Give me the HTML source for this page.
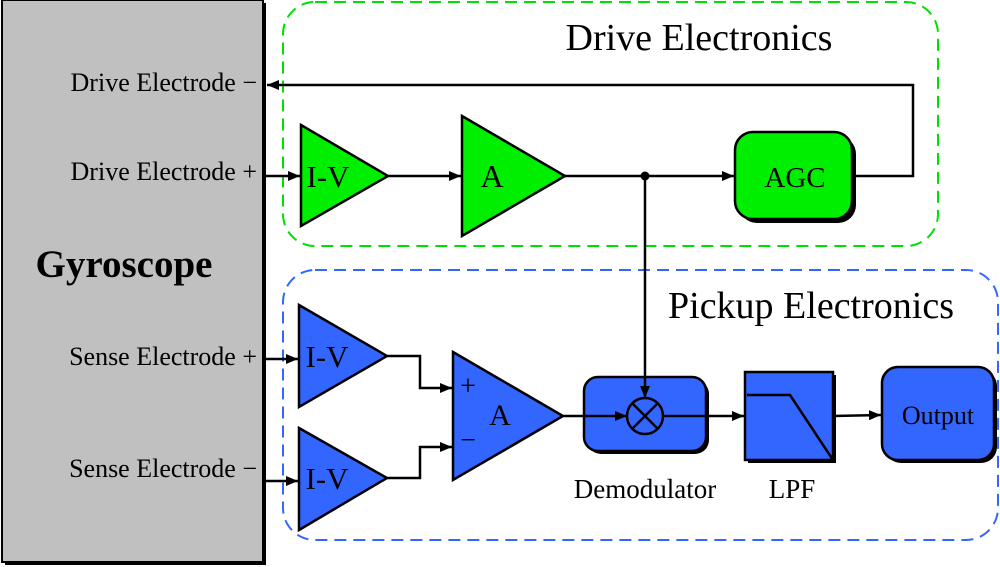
<!DOCTYPE html>
<html><head><meta charset="utf-8"><style>
html,body{margin:0;padding:0;background:#fff;}
svg{display:block;}
svg text{font-family:'Liberation Serif','Times New Roman',serif;}
</style></head><body>
<svg width="1000" height="567" viewBox="0 0 1000 567" xmlns="http://www.w3.org/2000/svg" font-family="'Liberation Serif','Times New Roman',serif">
<defs>
<marker id="ar" markerWidth="12" markerHeight="10" refX="12" refY="5" orient="auto" markerUnits="userSpaceOnUse">
<path d="M0,0 L12,5 L0,10 z" fill="#000"/>
</marker>
</defs>
<rect x="5" y="3" width="261" height="562" fill="#000"/>
<rect x="2" y="0" width="261" height="562" fill="#c0c0c0" stroke="#000" stroke-width="2"/>
<text x="124" y="277" font-size="39" font-weight="bold" text-anchor="middle">Gyroscope</text>
<g font-size="26" text-anchor="end">
<text x="257" y="91">Drive Electrode −</text>
<text x="257" y="180">Drive Electrode +</text>
<text x="257" y="365">Sense Electrode +</text>
<text x="257" y="477">Sense Electrode −</text>
</g>
<rect x="283" y="2" width="655" height="244" rx="32" fill="none" stroke="#00e000" stroke-width="2" stroke-dasharray="12,7"/>
<rect x="283" y="270" width="715" height="270" rx="32" fill="none" stroke="#3366ff" stroke-width="2" stroke-dasharray="12,7"/>
<text x="699" y="50" font-size="38" text-anchor="middle">Drive Electronics</text>
<text x="811" y="318" font-size="38" text-anchor="middle">Pickup Electronics</text>
<rect x="587" y="380" width="122" height="74" rx="14" fill="#000"/>
<rect x="584" y="377" width="122" height="74" rx="14" fill="#3366ff" stroke="#000" stroke-width="2.5"/>
<g stroke="#000" stroke-width="2.5" fill="none">
<line x1="265" y1="176" x2="300" y2="176" marker-end="url(#ar)"/>
<line x1="388" y1="176" x2="461" y2="176" marker-end="url(#ar)"/>
<line x1="565" y1="176" x2="734" y2="176" marker-end="url(#ar)"/>
<polyline points="852,176 913,176 913,85 267,85" marker-end="url(#ar)"/>
<line x1="645" y1="176" x2="645" y2="398" marker-end="url(#ar)"/>
<line x1="265" y1="359" x2="298" y2="359" marker-end="url(#ar)"/>
<line x1="265" y1="481" x2="298" y2="481" marker-end="url(#ar)"/>
<polyline points="387,356 420,356 420,388 452,388" marker-end="url(#ar)"/>
<polyline points="387,478 420,478 420,447 452,447" marker-end="url(#ar)"/>
<line x1="563" y1="416" x2="627" y2="416" marker-end="url(#ar)"/>
<line x1="663" y1="416" x2="744" y2="416" marker-end="url(#ar)"/>
<circle cx="645" cy="416" r="18"/>
<line x1="632" y1="403" x2="658" y2="429"/>
<line x1="658" y1="403" x2="632" y2="429"/>
</g>
<circle cx="645" cy="176" r="4.5" fill="#000"/>
<g text-anchor="middle">
<polygon points="301,125 388,176 301,226" fill="#00ee00" stroke="#000" stroke-width="2.5"/>
<text x="328" y="187" font-size="31">I-V</text>
<polygon points="462,116 565,176 462,236" fill="#00ee00" stroke="#000" stroke-width="2.5"/>
<text x="492" y="187" font-size="32">A</text>
<rect x="739" y="136" width="117" height="87" rx="18" fill="#000"/>
<rect x="735" y="132" width="117" height="87" rx="18" fill="#00ee00" stroke="#000" stroke-width="2.5"/>
<text x="795" y="187" font-size="29">AGC</text>
<polygon points="299,305 387,356 299,407" fill="#3366ff" stroke="#000" stroke-width="2.5"/>
<text x="327" y="367" font-size="31">I-V</text>
<polygon points="299,428 387,478 299,530" fill="#3366ff" stroke="#000" stroke-width="2.5"/>
<text x="327" y="489" font-size="31">I-V</text>
<polygon points="453,352 563,416 453,480" fill="#3366ff" stroke="#000" stroke-width="2.5"/>
<text x="468" y="395" font-size="28">+</text>
<text x="468" y="449" font-size="28">−</text>
<text x="500" y="425" font-size="30">A</text>
<text x="645" y="498" font-size="27">Demodulator</text>
<rect x="748" y="375" width="88" height="88" fill="#000"/>
<rect x="745" y="372" width="88" height="88" fill="#3366ff" stroke="#000" stroke-width="2.5"/>
<polyline points="747,395 790,395 833,460" fill="none" stroke="#000" stroke-width="2.5"/>
<text x="792" y="498" font-size="27">LPF</text>
<line x1="833" y1="416" x2="881" y2="415" stroke="#000" stroke-width="2.5" marker-end="url(#ar)"/>
<rect x="885" y="370" width="112" height="93" rx="16" fill="#000"/>
<rect x="882" y="367" width="112" height="93" rx="16" fill="#3366ff" stroke="#000" stroke-width="2.5"/>
<text x="938" y="424" font-size="26">Output</text>
</g>
</svg>
</body></html>
